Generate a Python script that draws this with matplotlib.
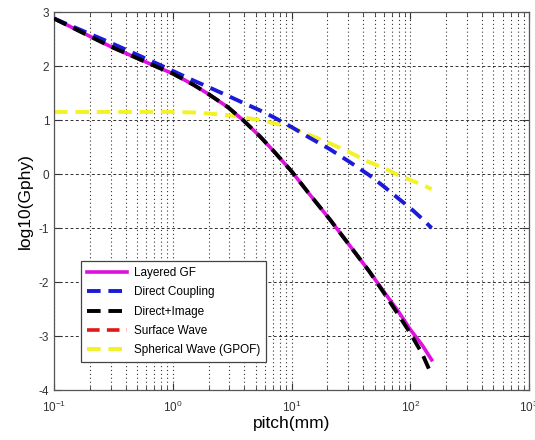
import matplotlib
matplotlib.use("Agg")
import matplotlib.pyplot as plt
from matplotlib.ticker import LogLocator, NullFormatter

plt.rcParams['font.family'] = ['Liberation Sans', 'DejaVu Sans']
plt.rcParams['mathtext.fontset'] = 'custom'
plt.rcParams['mathtext.rm'] = 'Liberation Sans'
plt.rcParams['axes.unicode_minus'] = False

pitch = [0.1, 0.3, 0.78, 1.0, 1.5, 2.0, 2.9, 3.9, 5.4, 7.1, 10, 14, 21, 31, 45, 59, 79, 100, 126, 151]

layered_gf = [2.88, 2.36, 1.96, 1.86, 1.65, 1.48, 1.24, 1.00, 0.70, 0.42, 0.05, -0.36, -0.84,
              -1.33, -1.80, -2.16, -2.54, -2.88, -3.17, -3.44]
direct_coupling = [2.88, 2.43, 2.02, 1.91, 1.73, 1.61, 1.45, 1.32, 1.18, 1.05, 0.87, 0.68, 0.46,
                   0.22, -0.02, -0.22, -0.45, -0.63, -0.83, -1.00]
direct_image = [2.88, 2.36, 1.96, 1.86, 1.65, 1.48, 1.24, 1.00, 0.70, 0.42, 0.05, -0.36, -0.84,
                -1.33, -1.80, -2.18, -2.60, -2.95, -3.33, -3.72]
surface_wave = [-9.0, -8.8, -8.6, -8.5, -8.3, -8.1, -7.9, -7.7, -7.5, -7.3, -7.0, -6.8, -6.5,
                -6.3, -6.0, -5.8, -5.6, -5.4, -5.2, -5.0]
spherical_wave = [1.15, 1.15, 1.15, 1.15, 1.14, 1.12, 1.09, 1.05, 1.00, 0.94, 0.86, 0.73, 0.57,
                  0.40, 0.22, 0.12, -0.02, -0.11, -0.20, -0.28]

labels = ['Layered GF', 'Direct Coupling', 'Direct+Image', 'Surface Wave', 'Spherical Wave (GPOF)']
x_ticks = [0.1, 1, 10, 100, 1000]
y_ticks = [-4, -3, -2, -1, 0, 1, 2, 3]

fig = plt.figure(figsize=(5.35, 4.4), dpi=100)
ax = fig.add_axes([0.101, 0.1136, 0.888, 0.859])

ax.plot(pitch, surface_wave, color='#e01818', lw=2.6, ls=(0, (3.5, 2)), label=labels[3], zorder=2)
ax.plot(pitch, layered_gf, color='#e010e0', lw=2.6, label=labels[0], zorder=3)
ax.plot(pitch, direct_coupling, color='#1a1ad8', lw=2.8, ls=(0, (3.5, 2)), label=labels[1], zorder=3)
ax.plot(pitch, direct_image, color='black', lw=2.8, ls=(0, (3.5, 2)), label=labels[2], zorder=4)
ax.plot(pitch, spherical_wave, color='#f2f227', lw=2.8, ls=(0, (3.5, 2)), label=labels[4], zorder=2)

ax.set_xscale('log')
ax.set_xlim(0.1, 1000)
ax.set_ylim(-4, 3)
ax.set_xticks(x_ticks)
ax.set_yticks(y_ticks)
ax.xaxis.set_minor_locator(LogLocator(base=10, subs=[2, 3, 4, 5, 6, 7, 8, 9]))
ax.xaxis.set_minor_formatter(NullFormatter())

ax.grid(True, which='major', axis='y', color='#333333', ls=(0, (3, 2.5)), lw=0.7)
ax.grid(True, which='both', axis='x', color='#333333', ls=(0, (1, 2.5)), lw=0.8)

ax.tick_params(which='both', direction='in', top=True, right=True, labelsize=8.5, colors='#333333')
ax.tick_params(which='major', length=5)
ax.tick_params(which='minor', length=3)
ax.tick_params(axis='x', which='major', pad=7)
for s in ax.spines.values():
    s.set_color('#555555')
    s.set_linewidth(0.9)

ax.set_xlabel('pitch(mm)', fontsize=12.5, labelpad=1)
ax.set_ylabel('log10(Gphy)', fontsize=12.5, labelpad=4)

handles, lbls = ax.get_legend_handles_labels()
order = [lbls.index(l) for l in labels]
leg = ax.legend([handles[i] for i in order], [lbls[i] for i in order],
                loc='lower left', bbox_to_anchor=(0.044, 0.058), fontsize=8.5,
                handlelength=3.4, labelspacing=0.62, borderpad=0.5, handletextpad=0.6,
                fancybox=False, framealpha=1, edgecolor='#444444')
leg.get_frame().set_linewidth(0.9)
leg.set_zorder(10)

fig.savefig('out.png', dpi=100)
